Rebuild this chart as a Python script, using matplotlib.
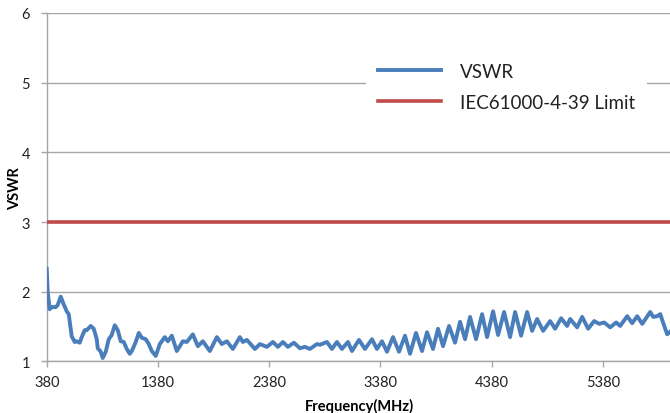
import matplotlib.pyplot as plt

# === Data ===
freq = [380, 389, 407, 425, 461, 479, 506, 533, 560, 578, 605, 632, 650, 677, 695,
        722, 740, 776, 803, 830, 839, 866, 884, 911, 938, 965, 992, 1019, 1046, 1073,
        1100, 1127, 1145, 1181, 1208, 1235, 1271, 1298, 1325, 1361, 1397, 1442, 1469,
        1505, 1550, 1604, 1640, 1694, 1739, 1784, 1847, 1910, 1955, 2000, 2054, 2117,
        2144, 2180, 2252, 2297, 2360, 2414, 2459, 2504, 2549, 2603, 2657, 2702, 2747,
        2810, 2837, 2900, 2945, 2990, 3035, 3089, 3125, 3188, 3242, 3305, 3350, 3395,
        3440, 3494, 3548, 3602, 3647, 3701, 3755, 3800, 3854, 3899, 3944, 3998, 4052,
        4097, 4142, 4187, 4241, 4295, 4340, 4394, 4439, 4493, 4547, 4592, 4646, 4700,
        4745, 4790, 4844, 4907, 4952, 5006, 5060, 5087, 5150, 5195, 5249, 5303, 5348,
        5393, 5447, 5501, 5537, 5600, 5645, 5690, 5735, 5807, 5834, 5870, 5897, 5933,
        5960, 5987]
vswr = [2.33, 2.00, 1.75, 1.78, 1.78, 1.81, 1.93, 1.82, 1.72, 1.68, 1.36, 1.28, 1.29,
        1.27, 1.35, 1.45, 1.45, 1.51, 1.47, 1.32, 1.19, 1.14, 1.05, 1.14, 1.32, 1.38,
        1.52, 1.45, 1.29, 1.28, 1.18, 1.11, 1.15, 1.28, 1.41, 1.34, 1.32, 1.25, 1.15,
        1.08, 1.25, 1.35, 1.29, 1.37, 1.15, 1.29, 1.28, 1.39, 1.22, 1.29, 1.15, 1.35,
        1.25, 1.29, 1.18, 1.35, 1.28, 1.31, 1.18, 1.25, 1.21, 1.28, 1.21, 1.28, 1.21,
        1.27, 1.19, 1.21, 1.18, 1.25, 1.24, 1.28, 1.18, 1.28, 1.18, 1.28, 1.15, 1.31,
        1.18, 1.32, 1.18, 1.29, 1.14, 1.35, 1.14, 1.37, 1.11, 1.41, 1.15, 1.42, 1.18,
        1.47, 1.22, 1.51, 1.27, 1.57, 1.32, 1.64, 1.32, 1.68, 1.35, 1.72, 1.38, 1.71,
        1.35, 1.71, 1.37, 1.71, 1.44, 1.61, 1.44, 1.58, 1.47, 1.62, 1.51, 1.61, 1.49,
        1.64, 1.47, 1.58, 1.54, 1.56, 1.49, 1.56, 1.51, 1.65, 1.55, 1.65, 1.54, 1.71,
        1.64, 1.65, 1.68, 1.51, 1.39, 1.43]
limit_value = 3
x_ticks = [380, 1380, 2380, 3380, 4380, 5380]
y_ticks = [1, 2, 3, 4, 5, 6]

plt.rcParams['font.family'] = ['Lato', 'DejaVu Sans']
grid_gray = '#a6a6a6'

fig = plt.figure(figsize=(6.70, 4.14), dpi=100)
ax = fig.add_axes([0.0697, 0.1244, 0.9328, 0.8418])

ax.plot(freq, vswr, color='#4a7ebb', lw=2.8, solid_joinstyle='round', label='VSWR', zorder=3)
ax.axhline(limit_value, color='#be4b48', lw=2.6, label='IEC61000-4-39 Limit', zorder=3)

ax.set_xlim(380, 6000)
ax.set_ylim(1, 6)
ax.set_xticks(x_ticks)
ax.set_yticks(y_ticks)
ax.yaxis.grid(True, color=grid_gray, lw=1)
ax.set_axisbelow(True)

for s in ['top', 'right']:
    ax.spines[s].set_visible(False)
for s in ['left', 'bottom']:
    ax.spines[s].set_color(grid_gray)
    ax.spines[s].set_linewidth(1)
ax.tick_params(axis='both', colors=grid_gray, length=4, width=1, labelcolor='#222222',
               labelsize=10.5)
ax.tick_params(axis='x', pad=6)
ax.tick_params(axis='y', pad=8)

ax.set_xlabel('Frequency(MHz)', fontsize=10.5, fontweight='bold', labelpad=6)
ax.set_ylabel('VSWR', fontsize=10.5, fontweight='bold')
ax.yaxis.set_label_coords(-0.0395, 0.5)

leg = ax.legend(loc='center left', bbox_to_anchor=(357 / 670, 1 - 88 / 414),
                bbox_transform=fig.transFigure, fontsize=13.5, handlelength=3.4,
                handletextpad=1.0, labelspacing=0.75, borderpad=0.6,
                frameon=True, fancybox=False, framealpha=1)
leg.get_frame().set_edgecolor('none')
leg.get_frame().set_facecolor('white')
for t in leg.get_texts():
    t.set_color('#222222')

plt.savefig('out.png', dpi=100)
